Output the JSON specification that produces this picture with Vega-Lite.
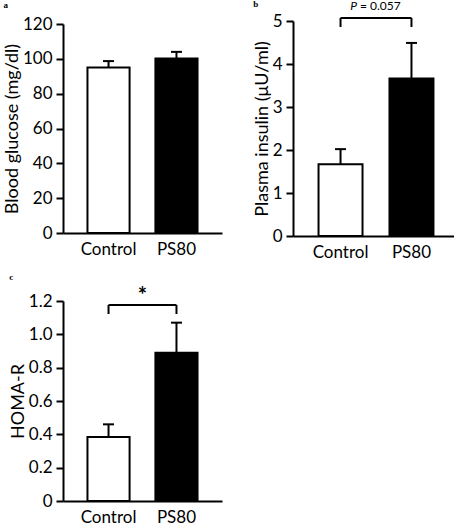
{
  "$schema": "https://vega.github.io/schema/vega-lite/v6.json",
  "padding": {"left": 3, "top": -1, "right": 0, "bottom": 0},
  "background": "white",
  "config": {
    "view": {"stroke": null},
    "font": "Lato",
    "axis": {
      "grid": false,
      "domainColor": "black",
      "domainWidth": 2,
      "tickColor": "black",
      "tickWidth": 2,
      "tickSize": 7,
      "labelColor": "black",
      "titleColor": "black",
      "labelFont": "Lato",
      "titleFont": "Lato",
      "labelFontSize": 17,
      "titleFontSize": 18,
      "titleFontWeight": "normal",
      "labelPadding": 4,
      "titlePadding": 1,
      "labelOverlap": false
    },
    "axisX": {"ticks": false, "labelAngle": 0, "labelPadding": 8, "title": null},
    "title": {"font": "Liberation Serif", "fontWeight": "bold", "fontSize": 9, "anchor": "start", "color": "black", "baseline": "alphabetic"}
  },
  "datasets": {
    "glucose": [
      {"group": "Control", "mean": 95, "upper": 98.7},
      {"group": "PS80", "mean": 100.2, "upper": 104}
    ],
    "insulin": [
      {"group": "Control", "mean": 1.67, "upper": 2.02},
      {"group": "PS80", "mean": 3.66, "upper": 4.49}
    ],
    "homa": [
      {"group": "Control", "mean": 0.384, "upper": 0.46},
      {"group": "PS80", "mean": 0.89, "upper": 1.07}
    ],
    "bracketB": [{"group": "Control", "group2": "PS80", "top": 5.07, "leg": 4.86, "label": 5.26}],
    "legsB": [{"group": "Control", "top": 5.07, "leg": 4.86}, {"group": "PS80", "top": 5.07, "leg": 4.86}],
    "bracketC": [{"group": "Control", "group2": "PS80", "top": 1.176, "leg": 1.122, "label": 1.19}],
    "legsC": [{"group": "Control", "top": 1.176, "leg": 1.122}, {"group": "PS80", "top": 1.176, "leg": 1.122}]
  },
  "columns": 2,
  "spacing": {"column": 71, "row": 65},
  "bounds": "flush",
  "center": {"row": true},
  "concat": [
    {
      "width": 159,
      "height": 209,
      "title": {"text": "a", "offset": 5},
      "encoding": {
        "x": {"field": "group", "type": "nominal", "scale": {"domain": ["Control", "PS80"], "paddingInner": 0.38, "paddingOuter": 0.36}}
      },
      "layer": [
        {
          "data": {"name": "glucose"},
          "mark": {"type": "bar", "stroke": "black", "strokeWidth": 2},
          "encoding": {
            "y": {"field": "mean", "type": "quantitative", "scale": {"domain": [0, 120], "nice": false},
                  "axis": {"values": [0, 20, 40, 60, 80, 100, 120], "tickCount": 20, "format": "d", "labelOverlap": false, "title": "Blood glucose (mg/dl)"}},
            "fill": {"field": "group", "type": "nominal", "scale": {"domain": ["Control", "PS80"], "range": ["white", "black"]}, "legend": null}
          }
        },
        {
          "data": {"name": "glucose"},
          "mark": {"type": "rule", "strokeWidth": 2, "color": "black"},
          "encoding": {"y": {"field": "mean", "type": "quantitative"}, "y2": {"field": "upper"}}
        },
        {
          "data": {"name": "glucose"},
          "mark": {"type": "tick", "thickness": 2, "size": 11, "color": "black", "opacity": 1},
          "encoding": {"y": {"field": "upper", "type": "quantitative"}}
        }
      ]
    },
    {
      "width": 166,
      "height": 215,
      "title": {"text": "b", "offset": -9},
      "encoding": {
        "x": {"field": "group", "type": "nominal", "scale": {"domain": ["Control", "PS80"], "paddingInner": 0.38, "paddingOuter": 0.36}}
      },
      "layer": [
        {
          "data": {"name": "insulin"},
          "mark": {"type": "bar", "stroke": "black", "strokeWidth": 2},
          "encoding": {
            "y": {"field": "mean", "type": "quantitative", "scale": {"domain": [0, 5], "nice": false},
                  "axis": {"values": [0, 1, 2, 3, 4, 5], "tickCount": 20, "format": "d", "labelOverlap": false, "title": "Plasma insulin (μU/ml)"}},
            "fill": {"field": "group", "type": "nominal", "scale": {"domain": ["Control", "PS80"], "range": ["white", "black"]}, "legend": null}
          }
        },
        {
          "data": {"name": "insulin"},
          "mark": {"type": "rule", "strokeWidth": 2, "color": "black"},
          "encoding": {"y": {"field": "mean", "type": "quantitative"}, "y2": {"field": "upper"}}
        },
        {
          "data": {"name": "insulin"},
          "mark": {"type": "tick", "thickness": 2, "size": 11, "color": "black", "opacity": 1},
          "encoding": {"y": {"field": "upper", "type": "quantitative"}}
        },
        {
          "data": {"name": "bracketB"},
          "mark": {"type": "rule", "strokeWidth": 2, "color": "black"},
          "encoding": {"x2": {"field": "group2"}, "y": {"field": "top", "type": "quantitative"}}
        },
        {
          "data": {"name": "legsB"},
          "mark": {"type": "rule", "strokeWidth": 2, "color": "black"},
          "encoding": {"y": {"field": "leg", "type": "quantitative"}, "y2": {"field": "top"}}
        },
        {
          "data": {"name": "bracketB"},
          "mark": {"type": "text", "text": "P", "fontStyle": "italic", "fontSize": 12, "align": "right", "baseline": "alphabetic", "dx": -19, "color": "black"},
          "encoding": {"x": {"field": "group", "type": "nominal", "bandPosition": 1.306}, "y": {"field": "label", "type": "quantitative"}}
        },
        {
          "data": {"name": "bracketB"},
          "mark": {"type": "text", "text": "= 0.057", "fontSize": 12, "align": "left", "baseline": "alphabetic", "dx": -16, "color": "black"},
          "encoding": {"x": {"field": "group", "type": "nominal", "bandPosition": 1.306}, "y": {"field": "label", "type": "quantitative"}}
        }
      ]
    },
    {
      "width": 159,
      "height": 200,
      "title": {"text": "c", "offset": 3},
      "encoding": {
        "x": {"field": "group", "type": "nominal", "scale": {"domain": ["Control", "PS80"], "paddingInner": 0.38, "paddingOuter": 0.36}}
      },
      "layer": [
        {
          "data": {"name": "homa"},
          "mark": {"type": "bar", "stroke": "black", "strokeWidth": 2},
          "encoding": {
            "y": {"field": "mean", "type": "quantitative", "scale": {"domain": [0, 1.2], "nice": false},
                  "axis": {"values": [0, 0.2, 0.4, 0.6, 0.8, 1.0, 1.2], "tickCount": 20, "labelOverlap": false, "labelExpr": "datum.value == 0 ? '0' : format(datum.value, '.1f')", "title": "HOMA-R"}},
            "fill": {"field": "group", "type": "nominal", "scale": {"domain": ["Control", "PS80"], "range": ["white", "black"]}, "legend": null}
          }
        },
        {
          "data": {"name": "homa"},
          "mark": {"type": "rule", "strokeWidth": 2, "color": "black"},
          "encoding": {"y": {"field": "mean", "type": "quantitative"}, "y2": {"field": "upper"}}
        },
        {
          "data": {"name": "homa"},
          "mark": {"type": "tick", "thickness": 2, "size": 11, "color": "black", "opacity": 1},
          "encoding": {"y": {"field": "upper", "type": "quantitative"}}
        },
        {
          "data": {"name": "bracketC"},
          "mark": {"type": "rule", "strokeWidth": 2, "color": "black"},
          "encoding": {"x2": {"field": "group2"}, "y": {"field": "top", "type": "quantitative"}}
        },
        {
          "data": {"name": "legsC"},
          "mark": {"type": "rule", "strokeWidth": 2, "color": "black"},
          "encoding": {"y": {"field": "leg", "type": "quantitative"}, "y2": {"field": "top"}}
        },
        {
          "data": {"name": "bracketC"},
          "mark": {"type": "text", "text": "*", "fontSize": 22, "fontWeight": "bold", "align": "center", "baseline": "alphabetic", "color": "black"},
          "encoding": {"x": {"field": "group", "type": "nominal", "bandPosition": 1.306}, "y": {"field": "label", "type": "quantitative"}}
        }
      ]
    }
  ]
}
